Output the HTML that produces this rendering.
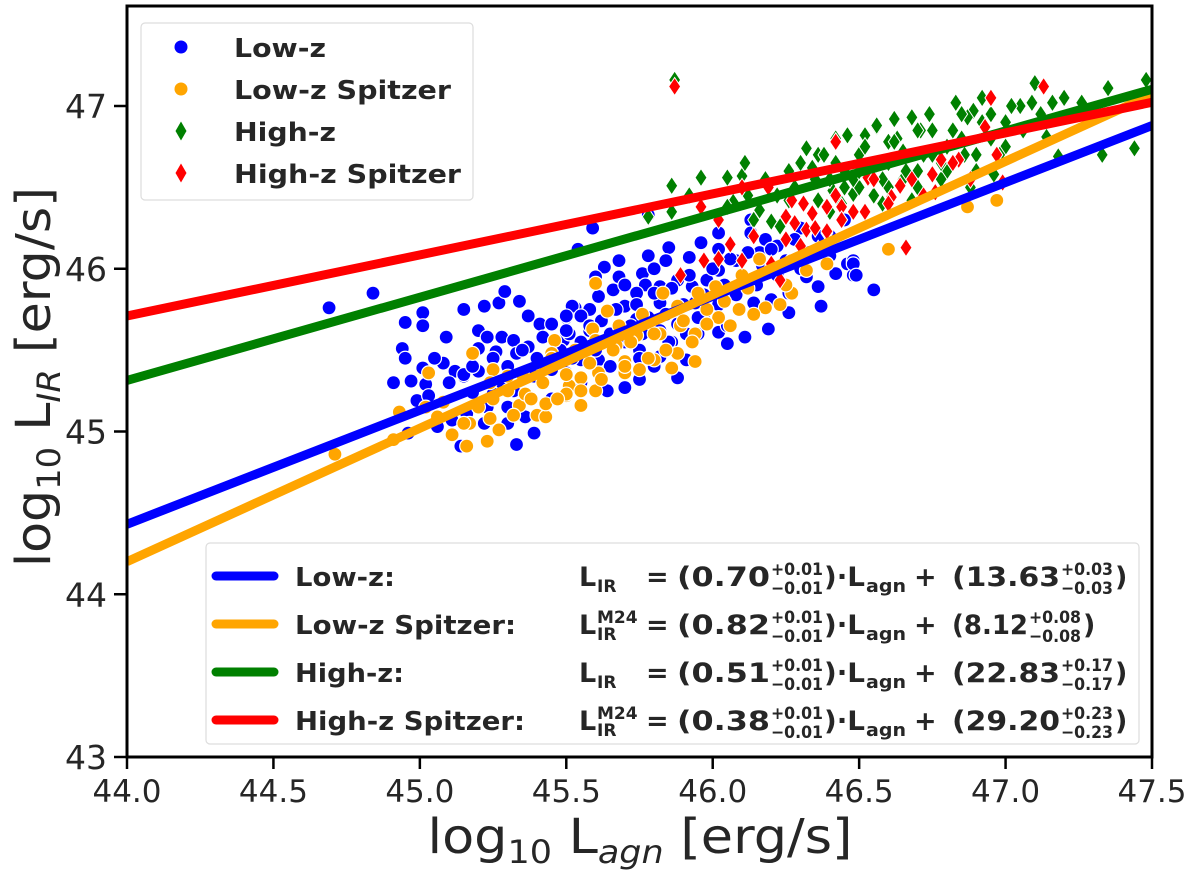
<!DOCTYPE html>
<html><head><meta charset="utf-8">
<style>
html,body{margin:0;padding:0;background:#fff;}
svg{display:block;font-family:"DejaVu Sans","Liberation Sans",sans-serif;}
</style></head>
<body>
<svg id="chart" width="1200" height="879" viewBox="0 0 1200 879" xmlns="http://www.w3.org/2000/svg">
<defs><clipPath id="plotclip"><rect x="127" y="6" width="1025" height="751"/></clipPath></defs>
<rect x="0" y="0" width="1200" height="879" fill="#fff"/>
<g id="points" clip-path="url(#plotclip)"></g>
<g id="lines" clip-path="url(#plotclip)"></g>
<rect x="127" y="6" width="1025" height="751" fill="none" stroke="#000" stroke-width="3"/>
<g id="axes"></g>
<g id="legends"></g>
</svg>
<script>
// ---- data ----
const lowZX = [44.69,44.84,44.95,45.01,45.01,45.15,45.22,45.27,45.29,45.34,45.09,45.2,44.94,44.95,45.08,45.01,44.91,44.97,45.02,44.99,45.03,45.12,45.15,45.20,45.23,45.28,45.32,45.37,45.2,45.26,45.33,45.41,45.45,45.50,45.53,45.54,45.15,45.18,45.25,45.32,45.39,45.43,45.49,45.37,45.33,45.14,44.96,45.06,45.16,45.23,45.36,45.39,45.30,45.11,
45.59,45.68,45.63,45.68,45.78,45.85,45.84,45.92,45.96,46.02,46.13,46.13,46.18,46.22,46.02,46.08,46.16,45.76,45.82,45.88,45.77,45.74,45.66,45.61,45.58,45.52,45.50,45.70,45.74,45.82,45.93,45.98,46.02,46.11,46.14,46.20,46.26,46.19,46.26,46.32,46.36,46.37,46.42,46.46,46.48,46.48,46.11,46.02,46.05,45.97,45.91,45.86,45.88,45.70,45.64,45.55,45.58,45.51,45.65,45.61,45.75,45.82,45.91,45.55,45.50,45.75,45.80,45.94,45.88,46.55,46.48,46.49,46.30,46.40,46.45,45.78];
const lowZY = [45.76,45.85,45.67,45.73,45.65,45.75,45.77,45.79,45.86,45.80,45.58,45.62,45.51,45.45,45.42,45.39,45.30,45.31,45.29,45.19,45.22,45.37,45.34,45.37,45.58,45.58,45.56,45.71,45.51,45.49,45.48,45.66,45.66,45.70,45.76,46.12,45.35,45.24,45.23,45.25,45.34,45.40,45.56,45.52,44.92,44.91,44.99,45.03,45.11,45.15,45.09,44.99,45.05,45.07,
46.25,46.05,46.01,45.95,46.08,46.13,46.05,46.07,46.16,46.22,46.30,46.22,46.18,46.14,46.12,46.05,46.10,45.97,45.89,45.93,45.90,45.85,45.87,45.83,45.75,45.77,45.71,45.77,45.69,45.79,45.89,45.93,45.99,45.91,45.79,45.81,45.73,45.63,45.85,45.95,45.89,45.77,45.97,46.03,45.96,46.05,45.58,45.61,45.54,45.69,45.60,45.55,45.33,45.27,45.25,45.71,45.62,45.60,45.56,45.44,45.50,45.46,45.44,45.44,45.36,45.32,45.40,45.79,45.77,45.87,46.03,45.96,46.25,46.20,46.30,46.33];
const lowZCoreX = [45.3,45.35,45.4,45.42,45.45,45.48,45.5,45.52,45.55,45.58,45.6,45.62,45.65,45.67,45.7,45.72,45.74,45.76,45.78,45.8,45.82,45.84,45.86,45.88,45.9,45.92,45.95,45.97,46.0,46.02,46.04,46.06,46.08,46.1,46.12,46.15,46.17,46.2,46.22,46.25,46.28,46.3,46.33,46.36,46.4,45.25,45.28,45.18,45.1,45.05,45.22,45.3,45.45,45.55,45.65,45.75,45.85,45.95,46.05,45.6,45.7,45.8];
const lowZCoreY = [45.4,45.5,45.45,45.58,45.38,45.5,45.62,45.45,45.55,45.65,45.5,45.68,45.6,45.75,45.55,45.65,45.78,45.6,45.7,45.85,45.62,45.72,45.88,45.66,45.78,45.96,45.7,45.84,46.0,45.78,45.9,46.06,45.84,45.96,46.1,45.9,46.02,46.12,45.96,46.05,46.18,46.0,46.1,46.2,46.08,45.45,45.3,45.4,45.3,45.45,45.05,45.15,45.2,45.3,45.4,45.45,45.55,45.6,45.65,45.95,45.9,46.0];
const lowZSpX = [45.03,45.18,45.46,45.45,44.93,44.71,44.91,45.02,45.06,45.11,45.16,45.23,45.17,45.24,45.27,45.34,45.40,45.43,45.43,45.50,45.51,45.25,45.24,45.30,45.36,
45.60,45.64,45.59,45.68,45.76,45.83,45.88,45.95,46.01,46.10,46.16,46.27,46.27,46.23,46.18,46.09,46.02,45.98,45.94,45.89,45.82,45.74,45.67,45.60,45.53,45.88,45.94,45.80,45.70,45.75,45.86,45.61,45.55,45.50,45.55,45.60,45.70,46.39,46.32,46.60,46.97,46.87];
const lowZSpY = [45.36,45.48,45.56,45.48,45.12,44.86,44.95,45.15,45.09,44.98,44.91,44.94,45.05,45.08,45.01,45.16,45.10,45.09,45.17,45.22,45.28,45.38,45.30,45.34,45.23,
45.91,45.74,45.63,45.65,45.72,45.85,45.77,45.85,45.89,45.96,46.06,46.05,45.85,45.78,45.76,45.75,45.70,45.66,45.60,45.65,45.60,45.59,45.53,45.56,45.50,45.48,45.43,45.44,45.43,45.38,45.39,45.36,45.33,45.23,45.16,45.25,45.36,46.03,45.99,46.12,46.42,46.38];
const lowZSpCoreX = [45.2,45.25,45.3,45.32,45.38,45.42,45.47,45.5,45.55,45.58,45.62,45.66,45.7,45.72,45.78,45.8,45.84,45.9,45.93,45.98,46.04,46.06,46.12,46.14,46.2,46.25,45.45,45.35,45.15,45.08];
const lowZSpCoreY = [45.15,45.2,45.25,45.1,45.2,45.3,45.2,45.35,45.25,45.42,45.32,45.5,45.4,45.55,45.45,45.6,45.5,45.68,45.55,45.75,45.8,45.65,45.88,45.72,46.0,45.9,45.45,45.35,45.05,45.18];
const highZX = [45.87,45.86,45.96,46.05,46.10,45.78,45.86,45.92,46.16,46.20,46.14,46.23,46.26,46.30,46.34,46.41,46.44,46.48,46.36,46.42,46.26,46.07,46.11,46.32,46.30,
47.10,46.83,47.09,47.16,47.26,47.35,47.48,46.89,46.87,46.68,46.56,46.52,46.60,46.63,46.71,46.42,47.18,47.33,47.14,47.44,
46.45,46.50,46.55,46.60,46.65,46.70,46.75,46.80,46.85,46.90,46.95,47.00,46.50,46.60,46.70,46.80,46.90,47.00,46.55,46.65,46.75,46.85,46.95,47.05,47.20,46.58,46.68,46.78,46.88,46.48,46.40,46.36];
const highZY = [47.16,46.51,46.56,46.56,46.57,46.32,46.35,46.45,46.36,46.29,46.30,46.26,46.60,46.64,46.62,46.48,46.40,46.46,46.42,46.65,46.42,46.41,46.65,46.74,46.65,
47.14,47.02,47.02,47.02,47.02,47.11,47.16,46.97,46.93,46.93,46.87,46.82,46.78,46.80,46.85,46.80,46.69,46.70,46.81,46.74,
46.60,46.70,46.62,46.65,46.72,46.60,46.70,46.75,46.80,46.70,46.80,46.90,46.50,46.50,46.50,46.60,46.60,46.75,46.45,46.55,46.85,46.95,46.95,47.00,47.05,46.40,46.42,46.55,46.50,46.55,46.55,46.70];
const highZCoreX = [46.35,46.38,46.45,46.5,46.52,46.58,46.62,46.66,46.7,46.72,46.78,46.82,46.86,46.92,46.98,47.02,46.46,46.4,46.28,46.22,46.18,46.12,46.05,46.56,46.62,46.74,46.92,47.06,47.12,46.96];
const highZCoreY = [46.55,46.7,46.5,46.6,46.75,46.55,46.78,46.6,46.85,46.7,46.65,46.85,46.7,46.9,46.7,47.0,46.82,46.35,46.5,46.45,46.55,46.45,46.38,46.88,46.92,46.95,47.05,46.85,46.95,46.58];
const highZSpX = [45.87,45.89,45.97,46.02,46.06,46.02,45.96,46.10,46.27,46.31,46.34,46.25,46.32,46.39,46.44,46.25,46.20,46.23,46.30,46.19,
47.13,46.95,46.42,46.93,46.97,46.84,46.78,46.75,46.53,46.64,46.39,46.44,46.61,46.52,46.39,46.44,46.66,46.99,46.76,
46.35,46.42,46.48,46.55,46.6,46.68,46.72,46.82,46.88,46.36,46.28,46.14,46.1];
const highZSpY = [47.12,45.96,46.05,46.06,46.15,46.30,46.38,46.50,46.42,46.40,46.34,46.32,46.24,46.22,46.30,46.18,46.03,45.93,46.14,46.50,
47.12,47.05,46.78,46.87,46.70,46.67,46.67,46.58,46.56,46.51,46.38,46.38,46.44,46.35,46.23,46.30,46.13,46.53,46.47,
46.25,46.45,46.35,46.55,46.4,46.55,46.45,46.65,46.55,46.12,46.28,46.2,46.05];
// fit lines: slope / intercept
const fitNames = ['Low-z','Low-z Spitzer','High-z','High-z Spitzer'];
const fitSlopes = [0.70,0.82,0.511,0.375];
const fitIntercepts = [13.63,8.12,22.83,29.21];
const fitColors = ['#0000ff','#ffa500','#008000','#ff0000'];
const xTicks = [44.0,44.5,45.0,45.5,46.0,46.5,47.0,47.5];
const yTicks = [43,44,45,46,47];

// ---- scales ----
const X0=127, X1=1152, XMIN=44, XMAX=47.5;
const Y43=757, YPX=162.75;
function sx(v){return X0+(v-XMIN)*(X1-X0)/(XMAX-XMIN);}
function sy(v){return Y43-(v-43)*YPX;}
const NS='http://www.w3.org/2000/svg';
function mk(tag,attrs,parent){const e=document.createElementNS(NS,tag);for(const k in attrs)e.setAttribute(k,attrs[k]);parent.appendChild(e);return e;}

const pts=document.getElementById('points');
function circles(xs,ys,color,name){
  for(let i=0;i<xs.length;i++){
    const c=mk('circle',{cx:sx(xs[i]),cy:sy(ys[i]),r:7,fill:color,stroke:'#fff','stroke-width':1.2},pts);
    
    
  }
}
function diamonds(xs,ys,color,name){
  for(let i=0;i<xs.length;i++){
    const x=sx(xs[i]),y=sy(ys[i]);
    const d=mk('polygon',{points:`${x},${y-9} ${x+6},${y} ${x},${y+9} ${x-6},${y}`,fill:color,stroke:'#fff','stroke-width':1},pts);
    
    
  }
}
circles(lowZX.concat(lowZCoreX),lowZY.concat(lowZCoreY),'#0000ff','low-z-point');
circles(lowZSpX.concat(lowZSpCoreX),lowZSpY.concat(lowZSpCoreY),'#ffa500','low-z-spitzer-point');
diamonds(highZX.concat(highZCoreX),highZY.concat(highZCoreY),'#008000','high-z-point');
diamonds(highZSpX,highZSpY,'#ff0000','high-z-spitzer-point');

const lines=document.getElementById('lines');
for(let i=0;i<fitSlopes.length;i++){
  const l=mk('line',{x1:sx(XMIN),y1:sy(fitSlopes[i]*XMIN+fitIntercepts[i]),x2:sx(XMAX),y2:sy(fitSlopes[i]*XMAX+fitIntercepts[i]),stroke:fitColors[i],'stroke-width':9},lines);
  
  
}

// ---- axes ----
const ax=document.getElementById('axes');
xTicks.forEach(t=>{
  const x=sx(t);
  const tl=mk('line',{x1:x,y1:757,x2:x,y2:769,stroke:'#000','stroke-width':2.5},ax);
  
  
  const tx=mk('text',{x:x,y:802,'text-anchor':'middle','font-size':31,fill:'#262626'},ax);
  tx.textContent=t.toFixed(1);
  
  
});
yTicks.forEach(t=>{
  const y=sy(t);
  const tl=mk('line',{x1:114,y1:y,x2:127,y2:y,stroke:'#000','stroke-width':2.5},ax);
  
  
  const tx=mk('text',{x:107,y:y+12,'text-anchor':'end','font-size':33,fill:'#262626'},ax);
  tx.textContent=String(t);
  
  
});
</script>
<script>
(function(){
const svg=document.getElementById('chart');
const NS='http://www.w3.org/2000/svg';
function mk(tag,attrs,parent){const e=document.createElementNS(NS,tag);for(const k in attrs)e.setAttribute(k,attrs[k]);parent.appendChild(e);return e;}
// axis titles
const xt=mk('text',{x:640,y:853,'text-anchor':'middle','font-size':48,fill:'#262626',textLength:425,lengthAdjust:'spacingAndGlyphs'},svg);


xt.innerHTML='log<tspan font-size="32" dy="10">10</tspan><tspan dy="-10"> L</tspan><tspan font-size="32" font-style="italic" dy="10">agn</tspan><tspan dy="-10"> [erg/s]</tspan>';
const yt=mk('text',{x:0,y:0,'text-anchor':'middle','font-size':48,fill:'#262626',textLength:380,lengthAdjust:'spacingAndGlyphs',transform:'translate(50,377) rotate(-90)'},svg);


yt.innerHTML='log<tspan font-size="32" dy="10">10</tspan><tspan dy="-10"> L</tspan><tspan font-size="32" font-style="italic" dy="10">IR</tspan><tspan dy="-10"> [erg/s]</tspan>';

// marker legend
const lg1=mk('g',{},svg);


mk('rect',{x:141,y:23,width:332,height:177,rx:4,fill:'#fff','fill-opacity':0.85,stroke:'#ddd','stroke-width':1.2},lg1);
const l1names=['Low-z','Low-z Spitzer','High-z','High-z Spitzer'];
const l1w=[92,217,102,227];
const l1c=['#0000ff','#ffa500','#008000','#ff0000'];
const l1y=[47,89,131,173];
for(let i=0;i<4;i++){
  const y=l1y[i];
  let m;
  if(i<2) m=mk('circle',{cx:181,cy:y,r:6.5,fill:l1c[i]},lg1);
  else m=mk('polygon',{points:`181,${y-9.5} 186.5,${y} 181,${y+9.5} 175.5,${y}`,fill:l1c[i]},lg1);
  
  
  const t=mk('text',{x:234,y:y+10,'font-size':26,'font-weight':'bold',fill:'#262626',textLength:l1w[i],lengthAdjust:'spacingAndGlyphs'},lg1);
  t.textContent=l1names[i];
  
  
}

// fit legend
const lg2=mk('g',{},svg);


mk('rect',{x:206,y:543,width:933,height:201,rx:4,fill:'#fff','fill-opacity':0.85,stroke:'#ddd','stroke-width':1.2},lg2);
const rows=[
 {lab:'Low-z:',lw:100,c:'#0000ff',sup:'',a:'0.70',ae:'0.01',b:'13.63',be:'0.03',bw:108},
 {lab:'Low-z Spitzer:',lw:221,c:'#ffa500',sup:'M24',a:'0.82',ae:'0.01',b:'8.12',be:'0.08',bw:76},
 {lab:'High-z:',lw:109,c:'#008000',sup:'',a:'0.51',ae:'0.01',b:'22.83',be:'0.17',bw:108},
 {lab:'High-z Spitzer:',lw:230,c:'#ff0000',sup:'M24',a:'0.38',ae:'0.01',b:'29.20',be:'0.23',bw:108}
];
const F='font-weight="bold" fill="#262626"';
rows.forEach((r,i)=>{
  const base=586+i*48;
  const g=mk('g',{},lg2);
  
  
  mk('line',{x1:216,y1:base-10,x2:274,y2:base-10,stroke:r.c,'stroke-width':9,'stroke-linecap':'round'},g);
  const t=mk('text',{x:295,y:base,'font-size':26,'font-weight':'bold',fill:'#262626',textLength:r.lw,lengthAdjust:'spacingAndGlyphs'},g);
  t.textContent=r.lab;
  let h='';
  h+=`<text x="579" y="${base}" font-size="27" ${F}>L</text>`;
  h+=`<text x="597" y="${base+6}" font-size="17" ${F}>IR</text>`;
  if(r.sup) h+=`<text x="597" y="${base-11}" font-size="17" ${F}>${r.sup}</text>`;
  h+=`<text x="646" y="${base}" font-size="27" ${F}>=</text>`;
  h+=`<text x="677" y="${base}" font-size="27" ${F} textLength="93" lengthAdjust="spacingAndGlyphs">(${r.a}</text>`;
  h+=`<text x="771" y="${base-11}" font-size="17" ${F} textLength="52" lengthAdjust="spacingAndGlyphs">+${r.ae}</text>`;
  h+=`<text x="771" y="${base+8}" font-size="17" ${F} textLength="52" lengthAdjust="spacingAndGlyphs">−${r.ae}</text>`;
  h+=`<text x="824" y="${base}" font-size="27" ${F} textLength="41" lengthAdjust="spacingAndGlyphs">)·L</text>`;
  h+=`<text x="866" y="${base+6}" font-size="18" ${F} textLength="40" lengthAdjust="spacingAndGlyphs">agn</text>`;
  h+=`<text x="914" y="${base}" font-size="27" ${F}>+</text>`;
  h+=`<text x="952" y="${base}" font-size="27" ${F} textLength="${r.bw}" lengthAdjust="spacingAndGlyphs">(${r.b}</text>`;
  const sx2=952+r.bw+1;
  h+=`<text x="${sx2}" y="${base-11}" font-size="17" ${F} textLength="52" lengthAdjust="spacingAndGlyphs">+${r.be}</text>`;
  h+=`<text x="${sx2}" y="${base+8}" font-size="17" ${F} textLength="52" lengthAdjust="spacingAndGlyphs">−${r.be}</text>`;
  h+=`<text x="${sx2+54}" y="${base}" font-size="27" ${F}>)</text>`;
  const eg=mk('g',{},g);
  
  
  eg.innerHTML=h;
});
})();
</script>
</body></html>
